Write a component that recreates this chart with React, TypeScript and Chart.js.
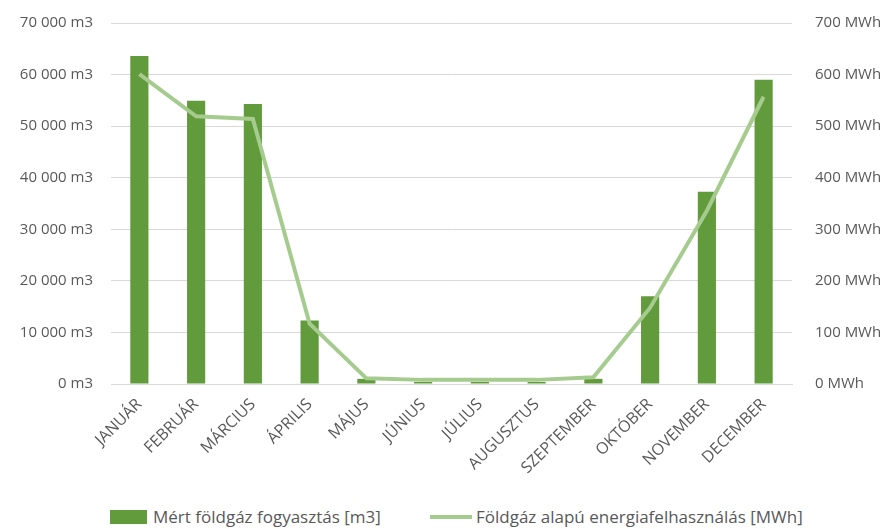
import React, { useEffect, useRef } from "react";
import { Chart, registerables } from "chart.js";

Chart.register(...registerables);

const months = ["JANUÁR", "FEBRUÁR", "MÁRCIUS", "ÁPRILIS", "MÁJUS", "JÚNIUS", "JÚLIUS", "AUGUSZTUS", "SZEPTEMBER", "OKTÓBER", "NOVEMBER", "DECEMBER"];
const gasM3 = [63600, 54900, 54300, 12300, 1000, 400, 400, 400, 1000, 17000, 37300, 59000];
const energyMWh = [601, 519, 514, 117, 11, 8, 8, 8, 13, 148, 336, 557];
const barLabel = "Mért földgáz fogyasztás [m3]";
const lineLabel = "Földgáz alapú energiafelhasználás [MWh]";

const BAR_COLOR = "#629b3c";
const LINE_COLOR = "#a6cb8e";
const TEXT = "#595959";
const FONT = "'Open Sans', Lato, sans-serif";

const fmt = (v: number) => {
  const s = Math.round(v).toString();
  return s.replace(/\B(?=(\d{3})+(?!\d))/g, " ");
};

export default function App() {
  const ref = useRef<HTMLCanvasElement | null>(null);
  useEffect(() => {
    if (!ref.current) return;
    const chart = new Chart(ref.current, {
      type: "bar",
      data: {
        labels: months,
        datasets: [
          {
            type: "line",
            label: lineLabel,
            data: energyMWh,
            yAxisID: "y1",
            borderColor: LINE_COLOR,
            backgroundColor: LINE_COLOR,
            borderWidth: 4,
            pointRadius: 0,
            tension: 0,
            order: 0,
          },
          {
            type: "bar",
            label: barLabel,
            data: gasM3,
            yAxisID: "y",
            backgroundColor: BAR_COLOR,
            barPercentage: 0.32,
            categoryPercentage: 1,
            order: 1,
          },
        ],
      },
      options: {
        responsive: false,
        animation: false,
        layout: { padding: { top: 0, left: 0, right: 0, bottom: 0 } },
        plugins: { legend: { display: false }, tooltip: { enabled: false } },
        scales: {
          x: {
            grid: { display: false, drawTicks: false },
            border: { color: "#d9d9d9", width: 1 },
            ticks: {
              color: TEXT,
              font: { family: FONT, size: 16 },
              minRotation: 45,
              maxRotation: 45,
              padding: 11,
              autoSkip: false,
            },
            afterFit: (s: any) => {
              s.height = 106;
            },
          },
          y: {
            position: "left",
            min: 0,
            max: 70000,
            ticks: {
              stepSize: 10000,
              color: TEXT,
              font: { family: FONT, size: 15 },
              padding: 18,
              callback: (v: any) => fmt(Number(v)) + " m3",
            },
            grid: { color: "#d9d9d9", drawTicks: false },
            border: { display: false },
            afterFit: (s: any) => {
              s.width = 111;
            },
          },
          y1: {
            position: "right",
            min: 0,
            max: 700,
            ticks: {
              stepSize: 100,
              color: TEXT,
              font: { family: FONT, size: 15 },
              padding: 23,
              callback: (v: any) => fmt(Number(v)) + " MWh",
            },
            grid: { display: false, drawTicks: false },
            border: { display: false },
            afterFit: (s: any) => {
              s.width = 102;
            },
          },
        },
      },
    });
    return () => chart.destroy();
  }, []);

  return (
    <div style={{ position: "absolute", left: 0, top: 0, width: 894, height: 529, background: "#fff", fontFamily: FONT, overflow: "hidden" }}>
      <canvas ref={ref} width={894} height={499} style={{ display: "block", position: "absolute", left: 0, top: -9 }} />
      <div style={{ position: "absolute", left: 110, top: 507, display: "flex", alignItems: "center", color: TEXT, fontSize: 17, lineHeight: "20px", whiteSpace: "nowrap" }}>
        <span style={{ display: "inline-block", width: 37, height: 14, background: BAR_COLOR, marginRight: 6 }} />
        <span>{barLabel}</span>
      </div>
      <div style={{ position: "absolute", left: 430, top: 507, display: "flex", alignItems: "center", color: TEXT, fontSize: 17, lineHeight: "20px", whiteSpace: "nowrap" }}>
        <span style={{ display: "inline-block", width: 42, height: 4, background: LINE_COLOR, marginRight: 4 }} />
        <span>{lineLabel}</span>
      </div>
    </div>
  );
}
